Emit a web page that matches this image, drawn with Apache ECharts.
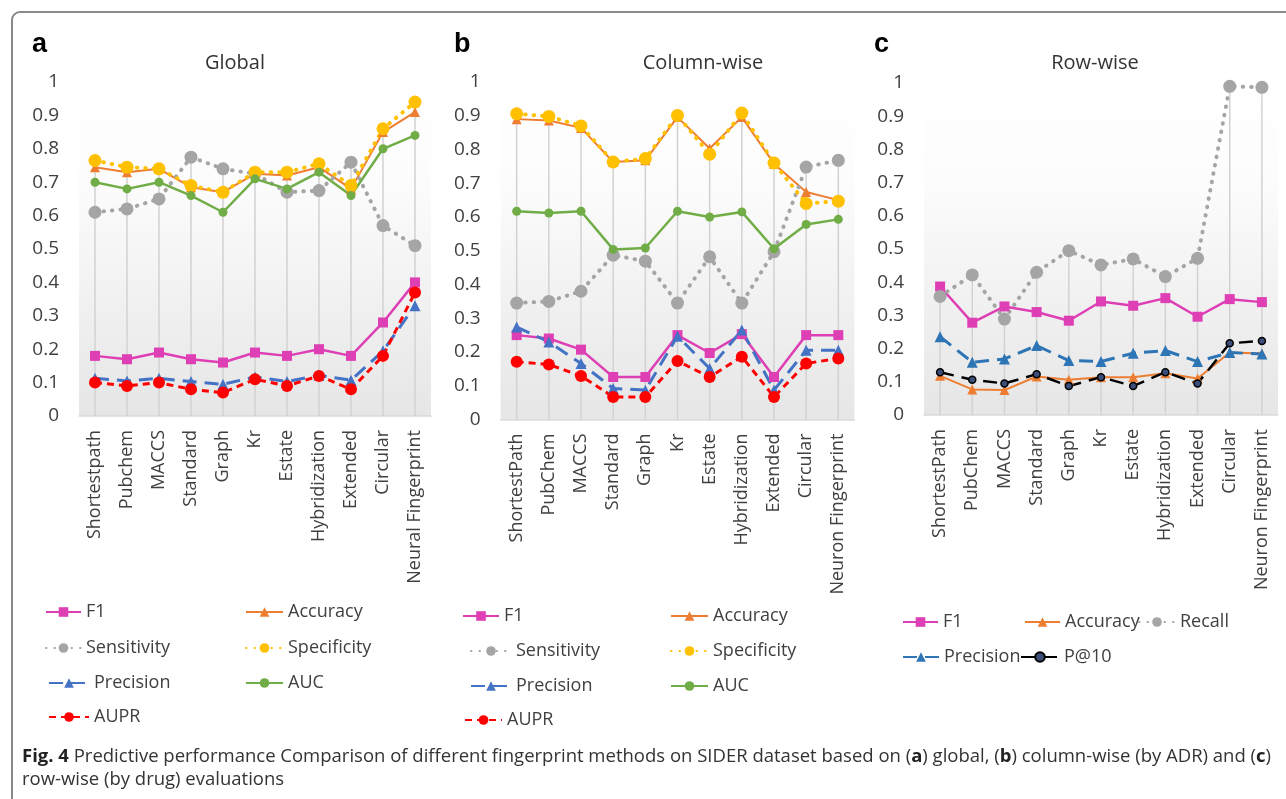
<!DOCTYPE html>
<html><head><meta charset="utf-8">
<script src="https://cdn.jsdelivr.net/npm/echarts@6/dist/echarts.min.js"></script>
<style>html,body{margin:0;padding:0;background:#fff}#c{width:1286px;height:799px}</style>
</head><body><div id="c"></div>
<script>
// ---------- DATA ----------
const categoriesA = ['Shortestpath','Pubchem','MACCS','Standard','Graph','Kr','Estate','Hybridization','Extended','Circular','Neural Fingerprint'];
const categoriesB = ['ShortestPath','PubChem','MACCS','Standard','Graph','Kr','Estate','Hybridization','Extended','Circular','Neuron Fingerprint'];
const categoriesC = ['ShortestPath','PubChem','MACCS','Standard','Graph','Kr','Estate','Hybridization','Extended','Circular','Neuron Fingerprint'];
const yTickValues = [0,0.1,0.2,0.3,0.4,0.5,0.6,0.7,0.8,0.9,1];

// Panel a: Global
const globalF1          = [0.18,0.17,0.19,0.17,0.16,0.19,0.18,0.20,0.18,0.28,0.40];
const globalAccuracy    = [0.745,0.73,0.74,0.685,0.67,0.725,0.72,0.745,0.68,0.85,0.91];
const globalSensitivity = [0.61,0.62,0.65,0.775,0.74,0.725,0.67,0.675,0.76,0.57,0.51];
const globalSpecificity = [0.765,0.745,0.74,0.69,0.67,0.73,0.73,0.755,0.69,0.86,0.94];
const globalPrecision   = [0.113,0.105,0.113,0.103,0.095,0.117,0.103,0.122,0.107,0.195,0.33];
const globalAUC         = [0.70,0.68,0.70,0.66,0.61,0.71,0.68,0.73,0.66,0.80,0.84];
const globalAUPR        = [0.10,0.09,0.10,0.08,0.07,0.11,0.09,0.12,0.08,0.18,0.37];

// Panel b: Column-wise
const colF1          = [0.25,0.24,0.207,0.126,0.126,0.25,0.197,0.253,0.126,0.25,0.25];
const colAccuracy    = [0.89,0.886,0.864,0.763,0.768,0.896,0.803,0.896,0.758,0.674,0.65];
const colSensitivity = [0.345,0.35,0.38,0.487,0.469,0.345,0.482,0.345,0.497,0.748,0.768];
const colSpecificity = [0.906,0.898,0.87,0.763,0.773,0.901,0.786,0.908,0.76,0.64,0.647];
const colPrecision   = [0.274,0.23,0.166,0.092,0.087,0.247,0.151,0.265,0.087,0.205,0.205];
const colAUC         = [0.617,0.612,0.617,0.504,0.508,0.617,0.60,0.615,0.506,0.578,0.593];
const colAUPR        = [0.171,0.163,0.129,0.067,0.067,0.173,0.126,0.186,0.067,0.166,0.181];

// Panel c: Row-wise
const rowF1        = [0.387,0.278,0.327,0.31,0.284,0.342,0.329,0.352,0.296,0.349,0.34];
const rowAccuracy  = [0.118,0.077,0.075,0.116,0.106,0.114,0.114,0.126,0.11,0.188,0.185];
const rowRecall    = [0.357,0.422,0.289,0.43,0.495,0.452,0.47,0.417,0.472,0.99,0.987];
const rowPrecision = [0.236,0.159,0.169,0.209,0.164,0.161,0.186,0.194,0.161,0.188,0.184];
const rowP10       = [0.129,0.106,0.095,0.123,0.087,0.114,0.087,0.129,0.095,0.216,0.223];

// ---------- STYLES ----------
const FONT = '"Open Sans", sans-serif';
const TXT = '#404040';
const STY = {
  'F1':          {color:'#DE3FB4', symbol:'rect', size:10, width:2.5, type:'solid'},
  'Accuracy':    {color:'#ED7D31', symbol:'triangle', size:10, width:2, type:'solid'},
  'Sensitivity': {color:'#A5A5A5', symbol:'circle', size:13, width:4, type:[0.5,8], cap:'round'},
  'Recall':      {color:'#A5A5A5', symbol:'circle', size:13, width:4, type:[0.5,8], cap:'round'},
  'Specificity': {color:'#FFC000', symbol:'circle', size:13, width:4, type:[0.5,8], cap:'round'},
  'Precision':   {color:'#4472C4', symbol:'triangle', size:11, width:3, type:[14,8]},
  'AUC':         {color:'#70AD47', symbol:'circle', size:9, width:2.5, type:'solid'},
  'AUPR':        {color:'#FF0000', symbol:'circle', size:12, width:3, type:[7,5]},
  'P@10':        {color:'#000000', symbol:'circle', size:7, width:2.5, type:[14,8], fill:'#3B4E7A'}
};

// legend entries: [series, icon left, row centre y, icon width]
const panels = [
  {key:'a', title:'Global', cats:categoriesA, titleX:235, letterX:42,
   grid:{left:79, top:82, width:352, height:334},
   series:[['F1',globalF1],['Accuracy',globalAccuracy],['Sensitivity',globalSensitivity],['Specificity',globalSpecificity],['Precision',globalPrecision],['AUC',globalAUC],['AUPR',globalAUPR]],
   legend:[['F1',45,613,35],['Accuracy',245,613,37],['Sensitivity',45,649,35],['Specificity',245,649,37],['Precision',48,684,40],['AUC',245,684,37],['AUPR',48,718,40]]},
  {key:'b', title:'Column-wise', cats:categoriesB, titleX:703, letterX:464,
   grid:{left:500.6, top:82, width:353.8, height:337.5},
   series:[['F1',colF1],['Accuracy',colAccuracy],['Sensitivity',colSensitivity],['Specificity',colSpecificity],['Precision',colPrecision],['AUC',colAUC],['AUPR',colAUPR]],
   legend:[['F1',462,617,36],['Accuracy',670,617,37],['Sensitivity',470,652,40],['Specificity',670,652,37],['Precision',470,687,40],['AUC',670,687,37],['AUPR',464,721,37]]},
  {key:'c', title:'Row-wise', cats:categoriesC, titleX:1095, letterX:884,
   grid:{left:924, top:83, width:354, height:332},
   series:[['F1',rowF1],['Accuracy',rowAccuracy],['Recall',rowRecall],['Precision',rowPrecision],['P@10',rowP10]],
   legend:[['F1',902,623,35],['Accuracy',1024,623,35],['Recall',1138,623,36],['Precision',902,658,36],['P@10',1020,658,38]]}
];

// ---------- BUILD ----------
const grids=[], xAxes=[], yAxes=[], series=[], legends=[], graphics=[];
panels.forEach((p, gi) => {
  grids.push(Object.assign({
    show:true, borderWidth:0,
    backgroundColor:{type:'linear',x:0,y:0,x2:0,y2:1,colorStops:[{offset:0,color:'#ffffff'},{offset:0.3,color:'#fcfcfc'},{offset:1,color:'#e6e6e6'}]}
  }, p.grid));
  xAxes.push({type:'category', gridIndex:gi, data:p.cats, boundaryGap:true,
    axisLine:{lineStyle:{color:'#d9d9d9', width:1.5}}, axisTick:{show:false},
    axisLabel:{rotate:90, interval:0, fontSize:18, color:TXT, fontFamily:FONT, margin:14}});
  yAxes.push({type:'value', gridIndex:gi, min:0, max:1, interval:0.1,
    axisLine:{show:false}, axisTick:{show:false}, splitLine:{show:false},
    axisLabel:{fontSize:19, color:TXT, fontFamily:FONT, margin:20,
      formatter:v => (Math.abs(v) < 1e-9 ? '0' : (Math.abs(v-1) < 1e-9 ? '1' : v.toFixed(1)))}});
  // drop lines: from axis to the highest value at each category
  const maxes = p.cats.map((_, i) => Math.max.apply(null, p.series.map(s => s[1][i])));
  series.push({type:'bar', name:'drop'+p.key, xAxisIndex:gi, yAxisIndex:gi, data:maxes,
    barWidth:1.5, silent:true, z:1, itemStyle:{color:'#d2d2d2'}});
  p.series.forEach(([nm, arr]) => {
    const st = Object.assign({}, STY[nm]);
    if (p.key === 'c' && nm === 'Precision') st.color = '#2E75B6';
    series.push({type:'line', name:nm+'|'+p.key, xAxisIndex:gi, yAxisIndex:gi, data:arr,
      symbol:st.symbol, symbolSize:st.size, z:3, animation:false,
      lineStyle:{color:st.color, width:st.width, type:st.type, cap:st.cap || 'butt'},
      itemStyle:{color:st.fill || st.color, borderColor:st.color, borderWidth: st.fill ? 1.5 : 0}});
  });
  p.legend.forEach(([nm, x, y, w]) => {
    legends.push({show:true, left:x, top:y-10, padding:0, itemGap:0, itemWidth:w, itemHeight:12,
      selectedMode:false, data:[nm+'|'+p.key], formatter:n => n.split('|')[0],
      textStyle:{fontSize:18, color:TXT, fontFamily:FONT}});
  });
  graphics.push({type:'text', left:p.letterX - 10, top:31, style:{text:p.key, font:'bold 27px "Liberation Sans", Arial, sans-serif', fill:'#000'}});
  graphics.push({type:'text', x:p.titleX, y:63, style:{text:p.title, font:'20px '+FONT, fill:'#333', align:'center', verticalAlign:'middle'}});
});

// frame
graphics.push({type:'rect', shape:{x:12, y:12, width:1300, height:820, r:8}, style:{fill:'none', stroke:'#8a8a8a', lineWidth:2}, z:-10});
// caption
graphics.push({type:'text', x:22, y:757, style:{
  text:'{b|Fig. 4} Predictive performance Comparison of different fingerprint methods on SIDER dataset based on ({b|a}) global, ({b|b}) column-wise (by ADR) and ({b|c})',
  font:'18.5px '+FONT, fill:'#333', verticalAlign:'middle',
  rich:{b:{fontWeight:'bold', fontSize:18.5, fontFamily:FONT, fill:'#222'}}}});
graphics.push({type:'text', x:22, y:780, style:{text:'row-wise (by drug) evaluations', font:'18.5px '+FONT, fill:'#333', verticalAlign:'middle'}});

const chart = echarts.init(document.getElementById('c'), null, {renderer:'canvas'});
chart.setOption({
  animation:false,
  backgroundColor:'#ffffff',
  textStyle:{fontFamily:FONT},
  grid:grids, xAxis:xAxes, yAxis:yAxes, series:series, legend:legends, graphic:graphics
});
</script></body></html>
